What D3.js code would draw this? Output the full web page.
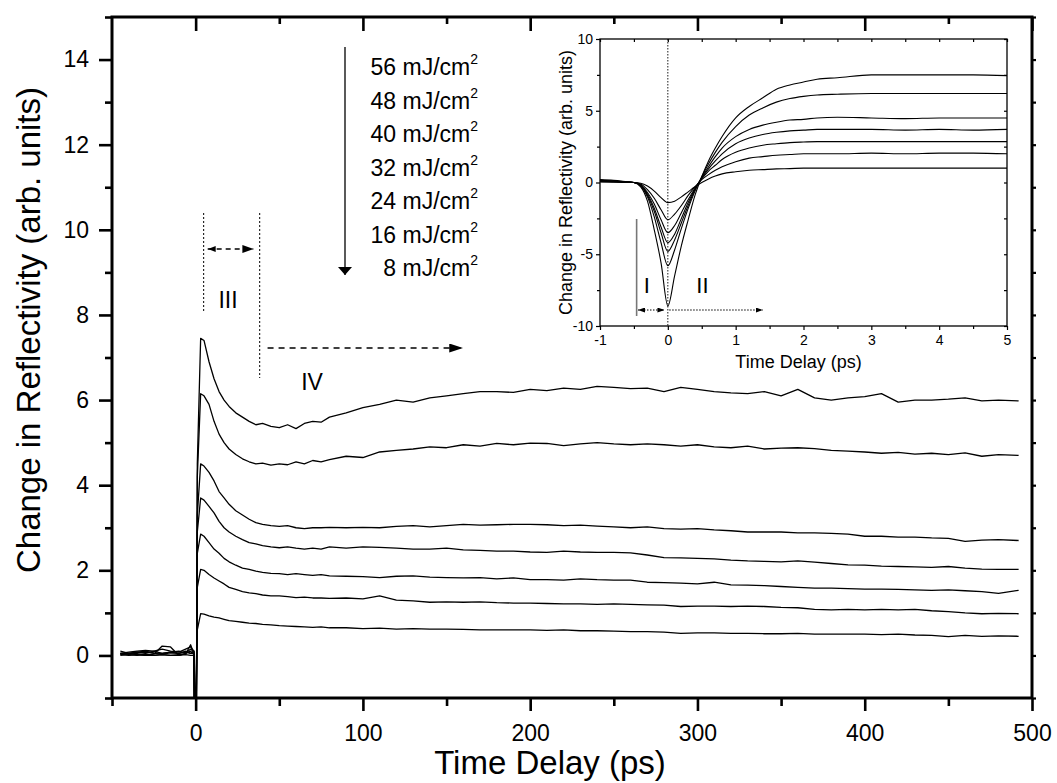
<!DOCTYPE html>
<html><head><meta charset="utf-8">
<script src="https://cdn.jsdelivr.net/npm/d3@7"></script>
<style>
body{margin:0;background:#fff;}
text{font-family:Arial,"Liberation Sans",Helvetica,sans-serif;fill:#000;}
</style>
</head><body>
<svg id="chart" width="1057" height="783"></svg>
<script>
// ---------------- DATA ----------------
const fluenceLabels = ["56 mJ/cm","48 mJ/cm","40 mJ/cm","32 mJ/cm","24 mJ/cm","16 mJ/cm","8 mJ/cm"];

const mainXMajor = [0,100,200,300,400,500];
const mainXMinor = [-50,50,150,250,350,450];
const mainYMajor = [0,2,4,6,8,10,12,14];
const mainYMinor = [-1,1,3,5,7,9,11,13,15];

const mainTime = [-45,-40,-35,-30,-25,-20,-15,-10,-6,-3,-1,
  0,1,3,5,8,11,14,17,20,24,28,32,36,40,45,50,55,60,65,70,75,80,
  90,100,110,120,130,140,150,160,170,180,190,200,210,220,230,240,250,260,270,280,290,300,
  310,320,330,340,350,360,370,380,390,400,410,420,430,440,450,460,470,480,492];

const main56 = [0.05,0.08,0.1,0.12,0.1,0.15,0.1,0.08,0.15,0.2,0.1,
  -8.6,4.5,7.45,7.4,6.9,6.5,6.2,6.0,5.85,5.7,5.6,5.5,5.42,5.45,5.38,5.35,5.42,5.33,5.45,5.5,5.48,5.6,
  5.7,5.82,5.9,6.0,5.95,6.05,6.1,6.15,6.2,6.2,6.18,6.25,6.22,6.28,6.25,6.32,6.3,6.27,6.28,6.2,6.3,6.25,
  6.2,6.17,6.15,6.2,6.1,6.25,6.05,6.0,6.05,6.08,6.15,5.95,6.0,6.0,6.02,6.05,5.98,6.0,5.98];
const main48 = [0.05,0.05,0.08,0.1,0.06,0.05,0.08,0.1,0.05,0.15,0.08,
  -5.8,4.2,6.15,6.1,5.9,5.5,5.2,5.0,4.85,4.72,4.62,4.55,4.5,4.52,4.47,4.5,4.48,4.55,4.5,4.58,4.55,4.6,
  4.68,4.65,4.78,4.82,4.85,4.9,4.88,4.95,4.92,4.98,4.95,4.99,4.98,4.93,4.97,5.0,4.97,4.95,4.97,4.95,4.92,4.95,
  4.9,4.88,4.92,4.85,4.87,4.88,4.86,4.82,4.8,4.78,4.75,4.77,4.73,4.75,4.72,4.76,4.68,4.72,4.7];
const main40 = [0.1,0.05,0.08,0.05,0.1,0.05,0.08,0.05,0.1,0.05,0.1,
  -4.8,3.3,4.5,4.45,4.3,4.1,3.85,3.7,3.55,3.4,3.3,3.2,3.12,3.08,3.05,3.03,3.05,3.0,2.98,3.0,3.0,3.01,
  3.0,3.01,3.0,3.03,3.05,3.02,3.05,3.08,3.06,3.07,3.08,3.08,3.07,3.05,3.06,3.04,3.02,3.0,3.02,2.98,2.97,2.98,
  2.95,2.93,2.9,2.9,2.9,2.88,2.88,2.87,2.85,2.8,2.8,2.78,2.78,2.76,2.75,2.68,2.71,2.72,2.7];
const main32 = [0.05,0.03,0.05,0.08,0.05,0.03,0.06,0.05,0.08,0.05,0.05,
  -4.2,2.9,3.7,3.65,3.5,3.35,3.15,3.0,2.9,2.8,2.72,2.65,2.62,2.58,2.55,2.53,2.55,2.52,2.5,2.52,2.5,2.55,
  2.52,2.55,2.54,2.52,2.5,2.5,2.52,2.48,2.47,2.45,2.45,2.43,2.42,2.45,2.43,2.42,2.42,2.41,2.36,2.3,2.29,2.28,
  2.27,2.24,2.22,2.21,2.2,2.22,2.19,2.16,2.13,2.12,2.1,2.09,2.08,2.07,2.09,2.05,2.03,2.02,2.02];
const main24 = [0.02,0.05,0.02,0.0,0.03,0.22,0.2,0.0,0.05,0.1,0.02,
  -3.5,2.4,2.85,2.8,2.65,2.5,2.4,2.28,2.2,2.12,2.05,2.02,1.98,1.95,1.93,1.92,1.9,1.92,1.9,1.88,1.9,1.87,
  1.86,1.85,1.83,1.86,1.87,1.84,1.83,1.82,1.83,1.8,1.82,1.78,1.78,1.77,1.8,1.78,1.77,1.77,1.72,1.71,1.7,1.68,
  1.72,1.66,1.65,1.64,1.62,1.6,1.58,1.58,1.57,1.56,1.56,1.55,1.54,1.53,1.54,1.52,1.5,1.46,1.53];
const main16 = [0.0,0.02,0.0,0.03,0.0,0.02,0.0,0.02,0.03,0.25,0.02,
  -2.6,1.6,2.02,2.0,1.9,1.82,1.75,1.68,1.6,1.55,1.5,1.47,1.45,1.42,1.4,1.4,1.38,1.36,1.37,1.35,1.35,1.34,
  1.35,1.33,1.4,1.3,1.28,1.25,1.26,1.25,1.26,1.24,1.23,1.23,1.22,1.21,1.21,1.2,1.21,1.2,1.19,1.18,1.15,1.16,
  1.16,1.15,1.16,1.15,1.13,1.12,1.08,1.07,1.08,1.07,1.08,1.07,1.08,1.05,1.03,1.0,0.98,0.99,0.98];
const main8 = [0.03,0.0,0.02,0.0,0.0,0.02,0.0,0.0,0.02,0.0,0.0,
  -1.4,0.6,0.98,0.97,0.93,0.9,0.88,0.85,0.82,0.8,0.78,0.76,0.75,0.73,0.72,0.7,0.69,0.68,0.67,0.66,0.67,0.65,
  0.65,0.63,0.64,0.62,0.63,0.62,0.62,0.61,0.6,0.6,0.6,0.6,0.59,0.6,0.58,0.58,0.57,0.56,0.56,0.55,0.52,0.53,
  0.53,0.52,0.52,0.51,0.51,0.52,0.5,0.5,0.5,0.5,0.49,0.5,0.48,0.47,0.44,0.47,0.45,0.46,0.45];

const insetXMajor = [-1,0,1,2,3,4,5];
const insetXMinor = [-0.5,0.5,1.5,2.5,3.5,4.5];
const insetYMajor = [-10,-5,0,5,10];
const insetYMinor = [-7.5,-2.5,2.5,7.5];

const insetTime = [-1,-0.8,-0.6,-0.5,-0.4,-0.3,-0.2,-0.1,0,0.1,0.2,0.3,0.4,0.5,0.6,0.7,0.8,1.0,1.2,1.4,1.6,1.8,2.0,2.2,2.5,3.0,3.5,4.0,4.5,5.0];
const inset56 = [0.2,0.15,0.05,0.0,-0.3,-1.3,-3.3,-5.6,-8.6,-6.5,-4.4,-2.6,-0.9,0.4,1.5,2.4,3.2,4.5,5.3,5.9,6.5,6.8,7.0,7.2,7.3,7.5,7.5,7.5,7.5,7.45];
const inset48 = [0.15,0.1,0.05,0.0,-0.25,-1.0,-2.4,-4.2,-5.8,-4.7,-3.2,-1.8,-0.6,0.4,1.3,2.1,2.8,3.9,4.7,5.2,5.6,5.85,6.0,6.1,6.15,6.2,6.2,6.2,6.2,6.2];
const inset40 = [0.15,0.1,0.03,0.0,-0.2,-0.9,-2.0,-3.5,-4.8,-4.0,-2.8,-1.6,-0.5,0.35,1.1,1.8,2.4,3.2,3.7,4.0,4.2,4.35,4.4,4.5,4.55,4.5,4.45,4.5,4.5,4.5];
const inset32 = [0.1,0.08,0.03,0.0,-0.18,-0.8,-1.8,-3.1,-4.2,-3.6,-2.5,-1.4,-0.45,0.3,0.95,1.5,2.0,2.7,3.1,3.35,3.5,3.6,3.65,3.7,3.7,3.7,3.65,3.7,3.65,3.7];
const inset24 = [0.1,0.05,0.02,0.0,-0.15,-0.7,-1.5,-2.6,-3.5,-3.0,-2.1,-1.2,-0.4,0.25,0.8,1.2,1.6,2.1,2.4,2.6,2.7,2.78,2.82,2.85,2.85,2.85,2.85,2.85,2.85,2.85];
const inset16 = [0.05,0.05,0.02,0.0,-0.1,-0.5,-1.1,-1.9,-2.6,-2.2,-1.6,-0.9,-0.3,0.2,0.55,0.85,1.1,1.45,1.7,1.8,1.9,1.95,2.0,2.0,2.0,2.05,2.0,2.05,2.05,2.0];
const inset8 = [0.05,0.02,0.0,0.0,-0.05,-0.25,-0.6,-1.05,-1.4,-1.3,-1.0,-0.65,-0.3,0.0,0.25,0.45,0.6,0.75,0.85,0.9,0.95,0.97,1.0,1.0,1.0,1.0,1.0,1.0,1.0,1.0];

// ---------------- DRAW ----------------
const svg = d3.select("#chart");
const mainSeries = [main56,main48,main40,main32,main24,main16,main8];
const insetSeries = [inset56,inset48,inset40,inset32,inset24,inset16,inset8];
const fmt = d => String(d);

const M = {l:112, r:1032, t:17, b:698};
const x = d3.scaleLinear().domain([-50,500]).range([M.l,M.r]);
const y = d3.scaleLinear().domain([-1,15]).range([M.b,M.t]);

const defs = svg.append("defs");
defs.append("clipPath").attr("id","mainClip").append("rect")
  .attr("x",M.l).attr("y",M.t).attr("width",M.r-M.l).attr("height",M.b-M.t);
function marker(id, w, h){
  defs.append("marker").attr("id",id).attr("viewBox",`0 0 ${w} ${h}`)
    .attr("refX",w).attr("refY",h/2).attr("markerWidth",w).attr("markerHeight",h)
    .attr("markerUnits","userSpaceOnUse").attr("orient","auto-start-reverse")
    .append("path").attr("d",`M0,0L${w},${h/2}L0,${h}Z`).attr("fill","#000");
}
marker("bigHead",14,9);
marker("midHead",11,8);
marker("smallHead",8,6);
marker("tinyHead",7,5);
marker("vHead",8,14);

// main curves
const line = d3.line().x(d=>x(d[0])).y(d=>y(d[1]));
const curves = svg.append("g").attr("clip-path","url(#mainClip)");
mainSeries.forEach(s=>{
  curves.append("path").datum(mainTime.map((t,i)=>[t,s[i]]))
    .attr("d",line).attr("fill","none").attr("stroke","#000").attr("stroke-width",1.3)
    .attr("stroke-linejoin","round");
});

// main axes
function styleAxis(g, width, fontSize){
  g.selectAll(".domain").remove();
  g.selectAll(".tick line").attr("stroke","#000").attr("stroke-width",width);
  g.selectAll(".tick text").attr("font-size",fontSize).attr("font-family","Arial, 'Liberation Sans', sans-serif").attr("fill","#000");
}
let g;
g = svg.append("g").attr("transform",`translate(0,${M.b})`)
  .call(d3.axisBottom(x).tickValues(mainXMajor).tickSize(13).tickPadding(14).tickFormat(fmt));
styleAxis(g,2.6,23);
g = svg.append("g").attr("transform",`translate(0,${M.b})`)
  .call(d3.axisBottom(x).tickValues(mainXMinor).tickSize(8).tickFormat(""));
styleAxis(g,2.6,23);
g = svg.append("g").attr("transform",`translate(0,${M.t})`)
  .call(d3.axisTop(x).tickValues(mainXMajor).tickSize(-14).tickFormat(""));
styleAxis(g,2.6,23);
g = svg.append("g").attr("transform",`translate(0,${M.t})`)
  .call(d3.axisTop(x).tickValues(mainXMinor.filter(v=>v>-50)).tickSize(-7).tickFormat(""));
styleAxis(g,2.6,23);
g = svg.append("g").attr("transform",`translate(${M.l},0)`)
  .call(d3.axisLeft(y).tickValues(mainYMajor).tickSize(13).tickPadding(10).tickFormat(fmt));
styleAxis(g,2.6,23);
g = svg.append("g").attr("transform",`translate(${M.l},0)`)
  .call(d3.axisLeft(y).tickValues(mainYMinor).tickSize(7).tickFormat(""));
styleAxis(g,2.6,23);
g = svg.append("g").attr("transform",`translate(${M.r},0)`)
  .call(d3.axisRight(y).tickValues(mainYMajor.concat(mainYMinor)).tickSize(4).tickFormat(""));
styleAxis(g,2.2,23);
svg.append("rect").attr("x",M.l).attr("y",M.t).attr("width",M.r-M.l).attr("height",M.b-M.t)
  .attr("fill","none").attr("stroke","#000").attr("stroke-width",3);

// axis titles
svg.append("text").attr("x",550).attr("y",774).attr("text-anchor","middle")
  .attr("font-size",33).text("Time Delay (ps)");
svg.append("text").attr("transform","translate(40,330) rotate(-90)").attr("text-anchor","middle")
  .attr("font-size",33).text("Change in Reflectivity (arb. units)");

// legend list with arrow
fluenceLabels.forEach((lab,i)=>{
  const t = svg.append("text").attr("x",478).attr("y",75+i*33.5).attr("text-anchor","end").attr("font-size",23);
  t.append("tspan").text(lab);
  t.append("tspan").attr("dy",-11).attr("font-size",14).text("2");
});
svg.append("line").attr("x1",345).attr("x2",345).attr("y1",47).attr("y2",275)
  .attr("stroke","#000").attr("stroke-width",1.3).attr("marker-end","url(#vHead)");

// region III / IV annotations
function vline(xp,y1,y2,dash,w){
  svg.append("line").attr("x1",xp).attr("x2",xp).attr("y1",y1).attr("y2",y2)
    .attr("stroke","#000").attr("stroke-width",w||1).attr("stroke-dasharray",dash);
}
vline(x(4.8),213,311,"2,2");
vline(x(38.3),213,378,"2,2");
svg.append("line").attr("x1",x(7.2)).attr("x2",x(34.5)).attr("y1",249).attr("y2",249)
  .attr("stroke","#000").attr("stroke-width",1.3).attr("stroke-dasharray","5,4")
  .attr("marker-start","url(#smallHead)").attr("marker-end","url(#midHead)");
svg.append("text").attr("x",228).attr("y",308).attr("text-anchor","middle").attr("font-size",23).text("III");
svg.append("text").attr("x",312).attr("y",390).attr("text-anchor","middle").attr("font-size",23).text("IV");
svg.append("line").attr("x1",x(43)).attr("x2",x(160)).attr("y1",348).attr("y2",348)
  .attr("stroke","#000").attr("stroke-width",1.3).attr("stroke-dasharray","6,5")
  .attr("marker-end","url(#bigHead)");

// ---------------- INSET ----------------
const I = {l:600, r:1007, t:39, b:326};
const xi = d3.scaleLinear().domain([-1,5]).range([I.l,I.r]);
const yi = d3.scaleLinear().domain([-10,10]).range([I.b,I.t]);

const iline = d3.line().x(d=>xi(d[0])).y(d=>yi(d[1])).curve(d3.curveMonotoneX);
insetSeries.forEach(s=>{
  svg.append("path").datum(insetTime.map((t,i)=>[t,s[i]]))
    .attr("d",iline).attr("fill","none").attr("stroke","#000").attr("stroke-width",1.1);
});

g = svg.append("g").attr("transform",`translate(0,${I.b})`)
  .call(d3.axisBottom(xi).tickValues(insetXMajor).tickSize(4).tickPadding(5).tickFormat(fmt));
styleAxis(g,1.2,14);
g = svg.append("g").attr("transform",`translate(0,${I.b})`)
  .call(d3.axisBottom(xi).tickValues(insetXMinor).tickSize(3).tickFormat(""));
styleAxis(g,1.2,14);
g = svg.append("g").attr("transform",`translate(0,${I.t})`)
  .call(d3.axisTop(xi).tickValues(insetXMajor.concat(insetXMinor)).tickSize(-3).tickFormat(""));
styleAxis(g,1.2,14);
g = svg.append("g").attr("transform",`translate(${I.l},0)`)
  .call(d3.axisLeft(yi).tickValues(insetYMajor).tickSize(4).tickPadding(3).tickFormat(fmt));
styleAxis(g,1.2,14);
g = svg.append("g").attr("transform",`translate(${I.l},0)`)
  .call(d3.axisLeft(yi).tickValues(insetYMinor).tickSize(3).tickFormat(""));
styleAxis(g,1.2,14);
g = svg.append("g").attr("transform",`translate(${I.r},0)`)
  .call(d3.axisRight(yi).tickValues(insetYMajor.concat(insetYMinor)).tickSize(-3).tickFormat(""));
styleAxis(g,1.2,14);
svg.append("rect").attr("x",I.l).attr("y",I.t).attr("width",I.r-I.l).attr("height",I.b-I.t)
  .attr("fill","none").attr("stroke","#000").attr("stroke-width",1.3);

svg.append("text").attr("x",(I.l+I.r)/2-5).attr("y",368).attr("text-anchor","middle")
  .attr("font-size",18).text("Time Delay (ps)");
svg.append("text").attr("transform",`translate(572,${(I.t+I.b)/2}) rotate(-90)`).attr("text-anchor","middle")
  .attr("font-size",18).text("Change in Reflectivity (arb. units)");

// inset annotations
svg.append("line").attr("x1",xi(0)).attr("x2",xi(0)).attr("y1",I.t).attr("y2",I.b)
  .attr("stroke","#000").attr("stroke-width",0.9).attr("stroke-dasharray","1.5,1.5");
svg.append("line").attr("x1",xi(-0.46)).attr("x2",xi(-0.46)).attr("y1",219).attr("y2",316)
  .attr("stroke","#777").attr("stroke-width",1.6);
svg.append("line").attr("x1",xi(-0.44)).attr("x2",xi(-0.05)).attr("y1",310).attr("y2",310)
  .attr("stroke","#000").attr("stroke-width",1).attr("stroke-dasharray","1.5,1.5")
  .attr("marker-start","url(#tinyHead)").attr("marker-end","url(#tinyHead)");
svg.append("line").attr("x1",xi(0.02)).attr("x2",xi(1.4)).attr("y1",310).attr("y2",310)
  .attr("stroke","#000").attr("stroke-width",1).attr("stroke-dasharray","1.5,1.5")
  .attr("marker-end","url(#tinyHead)");
svg.append("text").attr("x",xi(-0.31)).attr("y",293).attr("text-anchor","middle").attr("font-size",22).text("I");
svg.append("text").attr("x",xi(0.51)).attr("y",293).attr("text-anchor","middle").attr("font-size",22).text("II");
</script>
</body></html>
